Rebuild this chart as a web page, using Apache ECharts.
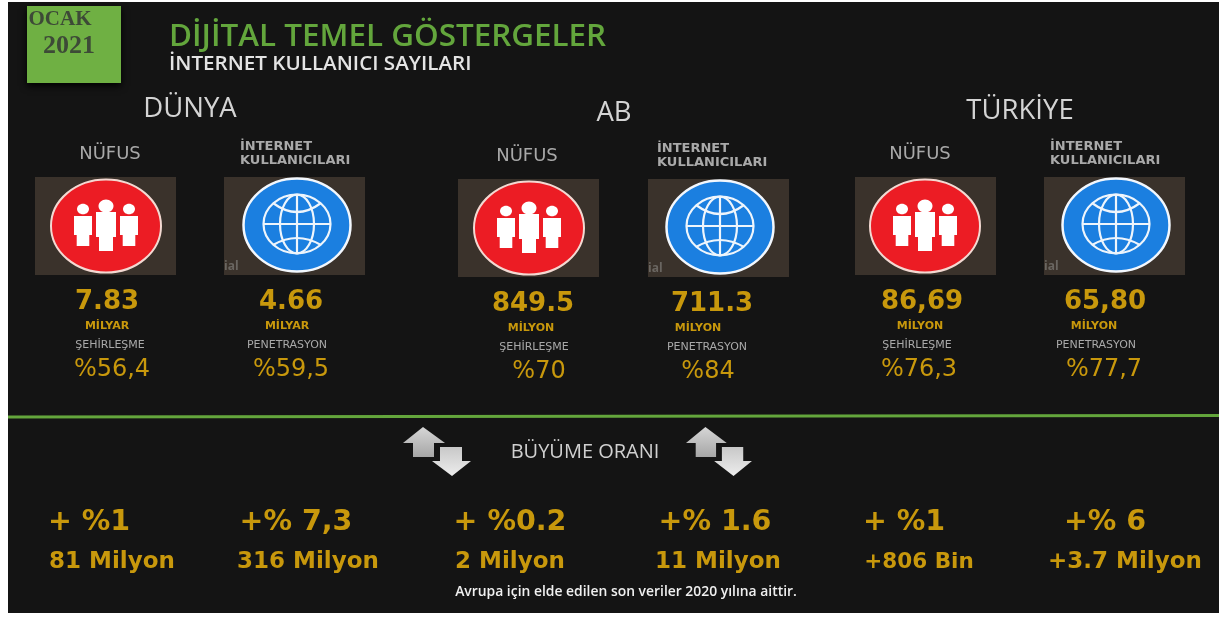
<!DOCTYPE html>
<html lang="tr">
    <head>
        <meta charset="UTF-8">
        <title>Dijital Temel Göstergeler</title>
        <script src="https://cdn.jsdelivr.net/npm/echarts@6/dist/echarts.min.js"></script>
        <style>
            html, body { margin: 0; height: 100%; background: #fff; overflow: hidden; }
            #main { width: 1219px; height: 617px; filter: blur(0.5px); }
        </style>
    </head>
    <body>
        <div id="main"></div>
    </body>
</html>
<script>
    // values
    var badge = ['OCAK', '2021'];
    var title = 'DİJİTAL TEMEL GÖSTERGELER';
    var subtitle = 'İNTERNET KULLANICI SAYILARI';
    var regions = ['DÜNYA', 'AB', 'TÜRKİYE'];
    var mainValues = ['7.83', '4.66', '849.5', '711.3', '86,69', '65,80'];
    var units = ['MİLYAR', 'MİLYAR', 'MİLYON', 'MİLYON', 'MİLYON', 'MİLYON'];
    var rateNames = ['ŞEHİRLEŞME', 'PENETRASYON', 'ŞEHİRLEŞME', 'PENETRASYON', 'ŞEHİRLEŞME', 'PENETRASYON'];
    var rates = ['%56,4', '%59,5', '%70', '%84', '%76,3', '%77,7'];
    var growthTitle = 'BÜYÜME ORANI';
    var growthRates = ['+ %1', '+% 7,3', '+ %0.2', '+% 1.6', '+ %1', '+% 6'];
    var growthCounts = ['81 Milyon', '316 Milyon', '2 Milyon', '11 Milyon', '+806 Bin', '+3.7 Milyon'];
    var footnote = 'Avrupa için elde edilen son veriler 2020 yılına aittir.';

    // layout, one entry per column
    var regionX = [190, 614, 1020];
    var regionY = [107, 111, 109];
    var colX = [35, 224, 458, 648, 855, 1044];
    var colY = [177, 177, 179, 179, 177, 177];
    var iconX = [106, 297, 529, 720, 925, 1116];
    var headX = [110, 240, 527, 657, 920, 1050];
    var valueX = [107, 291, 533, 712, 922, 1105];
    var unitX = [107, 287, 531, 698, 920, 1094];
    var nameX = [110, 287, 534, 707, 917, 1096];
    var rateX = [112, 291, 539, 708, 919, 1104];
    var growthX = [89, 296, 510, 715, 904, 1105];
    var countX = [112, 308, 510, 718, 919, 1125];
    var countSize = [23, 23, 23, 23, 21.5, 23];

    var gold = '#c8980c';
    var grey = '#a9a9a9';
    var sans = '"Open Sans", sans-serif';
    var wide = '"DejaVu Sans", sans-serif';

    var els = [];

    function txt(text, x, y, font, fill, align) {
        els.push({
            type: 'text',
            style: {text: text, x: x, y: y + 2, font: font, fill: fill, textAlign: align || 'center', textVerticalAlign: 'middle'}
        });
    }

    function rect(x, y, w, h, fill, extra) {
        var style = {fill: fill};
        for (var k in extra) { style[k] = extra[k]; }
        els.push({type: 'rect', shape: {x: x, y: y, width: w, height: h}, style: style});
    }

    function oval(cx, cy, rx, ry, style) {
        els.push({type: 'ellipse', shape: {cx: cx, cy: cy, rx: rx, ry: ry}, style: style});
    }

    function poly(points, style) {
        els.push({type: 'polygon', shape: {points: points}, style: style});
    }

    // head, shoulders block, narrower legs
    function person(cx, cy, w, headY, headR, bodyTop, waist, bottom) {
        oval(cx, cy + headY, headR, headR * 0.88, {fill: '#fff'});
        var leg = w * 0.35;
        poly([
            [cx - w / 2, cy + bodyTop], [cx + w / 2, cy + bodyTop], [cx + w / 2, cy + waist], [cx + leg, cy + waist],
            [cx + leg, cy + bottom], [cx - leg, cy + bottom], [cx - leg, cy + waist], [cx - w / 2, cy + waist]
        ], {fill: '#fff'});
    }

    function peopleIcon(cx, cy) {
        oval(cx, cy, 55, 46.5, {fill: '#ec1c24', stroke: '#f3d9d2', lineWidth: 2});
        person(cx - 23, cy, 18, -17, 6, -10, 9, 20);
        person(cx + 23, cy, 18, -17, 6, -10, 9, 20);
        person(cx, cy, 20, -20, 7.5, -14, 11, 25);
    }

    function globeIcon(cx, cy) {
        var line = {fill: 'none', stroke: '#eef5fc', lineWidth: 2.2};
        oval(cx, cy, 53.5, 46.5, {fill: '#1b7fe0', stroke: '#f2f7fd', lineWidth: 2.5});
        cy -= 1;
        oval(cx, cy, 33.5, 29.3, line);
        oval(cx, cy, 17, 29.3, line);
        els.push({type: 'line', shape: {x1: cx, y1: cy - 29.3, x2: cx, y2: cy + 29.3}, style: line});
        els.push({type: 'line', shape: {x1: cx - 33.5, y1: cy, x2: cx + 33.5, y2: cy}, style: line});
        els.push({type: 'bezierCurve', shape: {x1: cx - 24, y1: cy - 21, x2: cx + 24, y2: cy - 21, cpx1: cx, cpy1: cy - 3}, style: line});
        els.push({type: 'bezierCurve', shape: {x1: cx - 24, y1: cy + 21, x2: cx + 24, y2: cy + 21, cpx1: cx, cpy1: cy + 7}, style: line});
    }

    function arrows(x, s) {
        var shade = function (a, b) {
            return new echarts.graphic.LinearGradient(0, 0, 0, 1, [{offset: 0, color: a}, {offset: 1, color: b}]);
        };
        poly([[x + 20 * s, 427], [x + 42 * s, 443], [x + 31 * s, 443], [x + 31 * s, 457], [x + 10 * s, 457], [x + 10 * s, 443], [x, 443]],
            {fill: shade('#d6d6d6', '#a6a6a6')});
        poly([[x + 37 * s, 447], [x + 59 * s, 447], [x + 59 * s, 461], [x + 68 * s, 461], [x + 49 * s, 476], [x + 29 * s, 461], [x + 37 * s, 461]],
            {fill: shade('#c8c8c8', '#ededed')});
    }

    // background panel, badge, titles
    rect(8, 2, 1211, 611, '#141414');
    rect(27, 6, 94, 77, '#6fb043', {shadowBlur: 7, shadowColor: '#000', shadowOffsetY: 3});
    txt(badge[0], 60, 18, 'bold 21px "Liberation Serif", serif', '#3d4a37');
    txt(badge[1], 69, 44, 'bold 26px "Liberation Serif", serif', '#3d4a37');
    txt(title, 169, 35, '600 31.4px ' + sans, '#63a63c', 'left');
    txt(subtitle, 169, 62, '600 20.6px ' + sans, '#e4e4e4', 'left');

    for (var r = 0; r < regions.length; r++) {
        txt(regions[r], regionX[r], regionY[r], '27.5px ' + sans, '#d4d4d4');
    }

    // six columns: people icon for odd ones, globe for even ones
    for (var i = 0; i < 6; i++) {
        var y = colY[i];
        rect(colX[i], y, 141, 98, '#3a322b');
        if (i % 2 === 0) {
            txt('NÜFUS', headX[i], y - 25, '18px ' + wide, grey);
            peopleIcon(iconX[i], y + 49);
        } else {
            txt('İNTERNET', headX[i], y - 32, '600 13px ' + wide, grey, 'left');
            txt('KULLANICILARI', headX[i], y - 18, '600 13px ' + wide, grey, 'left');
            globeIcon(iconX[i], y + 48);
            txt('ial', colX[i], y + 88, 'bold 12px ' + sans, '#6a6661', 'left');
        }
        txt(mainValues[i], valueX[i], y + 123, 'bold 26px ' + wide, gold);
        txt(units[i], unitX[i], y + 147, 'bold 11px ' + wide, gold);
        txt(rateNames[i], nameX[i], y + 166, '11px ' + wide, grey);
        txt(rates[i], rateX[i], y + 191, '24px ' + wide, gold);
    }

    // separator
    els.push({type: 'line', shape: {x1: 8, y1: 417, x2: 1219, y2: 415.5}, style: {stroke: '#64a63c', lineWidth: 2.8}});

    // growth block
    arrows(403, 1);
    arrows(686, 0.97);
    txt(growthTitle, 585, 450, '20px ' + sans, '#d0d0d0');
    for (var j = 0; j < 6; j++) {
        txt(growthRates[j], growthX[j], 521, 'bold 28.5px ' + wide, gold);
        txt(growthCounts[j], countX[j], 560, 'bold ' + countSize[j] + 'px ' + wide, gold);
    }
    txt(footnote, 626, 590, '600 13.9px ' + sans, '#f0f0f0');

    var myChart = echarts.init(document.getElementById('main'), null, {renderer: 'canvas'});
    myChart.setOption({
        animation: false,
        backgroundColor: '#ffffff',
        graphic: {elements: els}
    });
</script>
